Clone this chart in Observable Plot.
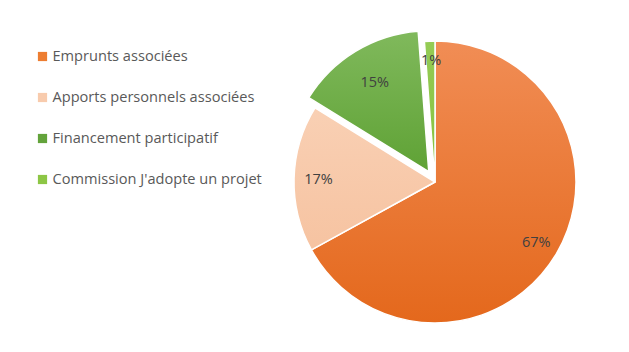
<!DOCTYPE html>
<html><head><meta charset="utf-8">
<script src="https://cdn.jsdelivr.net/npm/d3@7"></script>
<script src="https://cdn.jsdelivr.net/npm/@observablehq/plot@0.6"></script>
<style>
html,body{margin:0;padding:0;background:#fff;}
#wrap{position:relative;width:629px;height:352px;overflow:hidden;font-family:"Open Sans",sans-serif;}
#wrap > div{position:absolute;left:0;top:0;}
</style></head>
<body><div id="wrap"><div id="pie"></div><div id="legend"></div></div>
<script>
const categories = ["Emprunts associées", "Apports personnels associées", "Financement participatif", "Commission J'adopte un projet"];
const values = [67, 16.8, 15, 1.2];
const explodedCategory = "Financement participatif";
const baseColors = ["#ED7D31", "#F8CBAD", "#63A33B", "#8DC645"];
const gradTop = ["#F18D55", "#F9D0B4", "#80B95C", "#95CC55"];
const gradBottom = ["#E4681C", "#F6C3A1", "#5FA235", "#86C03C"];

const total = d3.sum(values);
const arcs = d3.pie().sort(null).value((d, i) => values[i])(categories)
  .map((a, i) => ({...a, name: categories[i], i, share: values[i] / total, mid: (a.startAngle + a.endAngle) / 2}));

const explode = 0.085;
const labelR = 0.83;

function pieRender(index, scales, channels, dimensions, context) {
  const cx = scales.x(0), cy = scales.y(0), r = scales.x(1) - scales.x(0);
  const g = d3.create("svg:g");
  const defs = g.append("defs");
  arcs.forEach((a, i) => {
    const lg = defs.append("linearGradient").attr("id", "grad" + i)
      .attr("x1", 0).attr("y1", 0).attr("x2", 0).attr("y2", 1);
    lg.append("stop").attr("offset", "0%").attr("stop-color", gradTop[i]);
    lg.append("stop").attr("offset", "100%").attr("stop-color", gradBottom[i]);
  });
  const arc = d3.arc().innerRadius(0).outerRadius(r);
  g.selectAll("path").data(Array.from(index, i => arcs[i])).join("path")
    .attr("d", arc)
    .attr("transform", a => {
      const off = a.name === explodedCategory ? explode * r : 0;
      return `translate(${cx + off * Math.sin(a.mid)},${cy - off * Math.cos(a.mid)})`;
    })
    .attr("fill", a => `url(#grad${a.i})`)
    .attr("stroke", "#fff")
    .attr("stroke-width", 1.5)
    .attr("stroke-linejoin", "round");
  return g.node();
}

const pie = Plot.plot({
  width: 629, height: 352,
  margin: 0,
  x: {domain: [-1, 1], range: [294, 576], axis: null},
  y: {domain: [-1, 1], range: [323, 41], axis: null},
  marks: [
    Plot.dot(arcs, {x: () => 0, y: () => 0, render: pieRender}),
    Plot.text(arcs, {
      x: a => labelR * Math.sin(a.mid),
      y: a => (a.share < 0.05 ? 0.87 : labelR) * Math.cos(a.mid),
      text: a => d3.format(".0%")(Math.round(a.share * 100) / 100),
      fill: "#404040", fontSize: 14.5, fontFamily: "Open Sans"
    })
  ]
});
document.getElementById("pie").append(pie);

const legend = Plot.plot({
  width: 290, height: 220,
  margin: 0,
  x: {domain: [0, 1], range: [0, 290], axis: null},
  y: {type: "point", domain: categories, range: [55, 179], padding: 0, axis: null},
  color: {domain: categories, range: baseColors},
  marks: [
    Plot.dot(categories, {x: () => 0, y: d => d, symbol: "square", r: 5.2, fill: d => d, dx: 42}),
    Plot.text(categories, {x: () => 0, y: d => d, text: d => d, dx: 52, textAnchor: "start",
      fill: "#595959", fontSize: 14.6, fontFamily: "Open Sans"})
  ]
});
document.getElementById("legend").append(legend);
</script></body></html>
